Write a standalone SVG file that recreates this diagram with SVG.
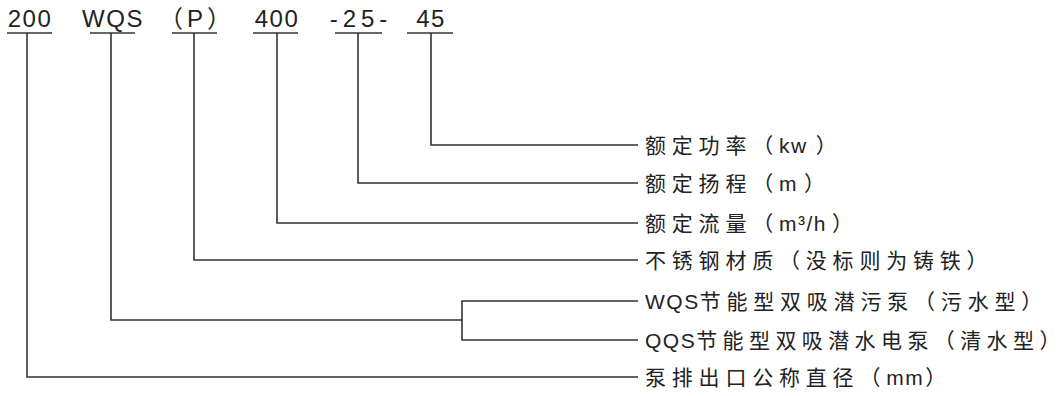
<svg xmlns="http://www.w3.org/2000/svg" width="1063" height="396" viewBox="0 0 1063 396">
<style>
.bg{fill:#ffffff}
.code{font-family:"Liberation Sans","Noto Sans CJK SC",sans-serif;font-size:24px;fill:#222;text-anchor:middle;letter-spacing:1.5px}
.lbl{font-family:"Liberation Sans","Noto Sans CJK SC",sans-serif;font-size:21px;fill:#222;letter-spacing:5.8px}
.lat{letter-spacing:1.5px}
.end{letter-spacing:0}
.ul{stroke:#333;stroke-width:1.6;fill:none}
.conn{stroke:#333;stroke-width:1.6;fill:none}
</style>
<rect class="bg" x="0" y="0" width="1063" height="396"/>
<g id="code-200"><text class="code" x="30" y="27">200</text><line class="ul" x1="7" y1="33" x2="52" y2="33"/></g>
<g id="code-wqs"><text class="code" x="113" y="27">WQS</text><line class="ul" x1="90" y1="33" x2="135" y2="33"/></g>
<g id="code-p"><text class="code" x="197" y="27" style="letter-spacing:4px">（P）</text><line class="ul" x1="172" y1="33" x2="217" y2="33"/></g>
<g id="code-400"><text class="code" x="277" y="27">400</text><line class="ul" x1="253" y1="33" x2="298" y2="33"/></g>
<g id="code-25"><text class="code" x="361" y="27" style="letter-spacing:5px">-25-</text><line class="ul" x1="335" y1="33" x2="382" y2="33"/></g>
<g id="code-45"><text class="code" x="431" y="27">45</text><line class="ul" x1="407" y1="33" x2="453" y2="33"/></g>

<g id="connectors">
<polyline class="conn" points="431,33 431,145 638,145"/>
<polyline class="conn" points="358,33 358,183 638,183"/>
<polyline class="conn" points="277,33 277,223 638,223"/>
<polyline class="conn" points="194,33 194,260 638,260"/>
<polyline class="conn" points="111,33 111,320 462,320"/>
<polyline class="conn" points="638,301 462,301 462,340 638,340"/>
<polyline class="conn" points="27,33 27,377 638,377"/>
</g>

<g id="label-power"><text class="lbl" x="645" y="153">额定功率（<tspan class="lat">kw</tspan><tspan dx="8" class="end">）</tspan></text></g>
<g id="label-head"><text class="lbl" x="645" y="191">额定扬程（<tspan class="lat">m</tspan><tspan dx="6" class="end">）</tspan></text></g>
<g id="label-flow"><text class="lbl" x="645" y="231">额定流量（<tspan class="lat">m³/h</tspan><tspan dx="5" class="end">）</tspan></text></g>
<g id="label-material"><text class="lbl" x="645" y="268">不锈钢材质（没标则为铸铁<tspan class="end">）</tspan></text></g>
<g id="label-wqs"><text class="lbl" x="645" y="309"><tspan class="lat">WQS</tspan>节能型双吸潜污泵（污水型<tspan class="end">）</tspan></text></g>
<g id="label-qqs"><text class="lbl" x="645" y="348" style="letter-spacing:5.4px"><tspan class="lat">QQS</tspan>节能型双吸潜水电泵（清水型<tspan class="end">）</tspan></text></g>
<g id="label-diameter"><text class="lbl" x="645" y="385">泵排出口公称直径（<tspan class="lat">mm</tspan><tspan dx="1" class="end">）</tspan></text></g>
</svg>
